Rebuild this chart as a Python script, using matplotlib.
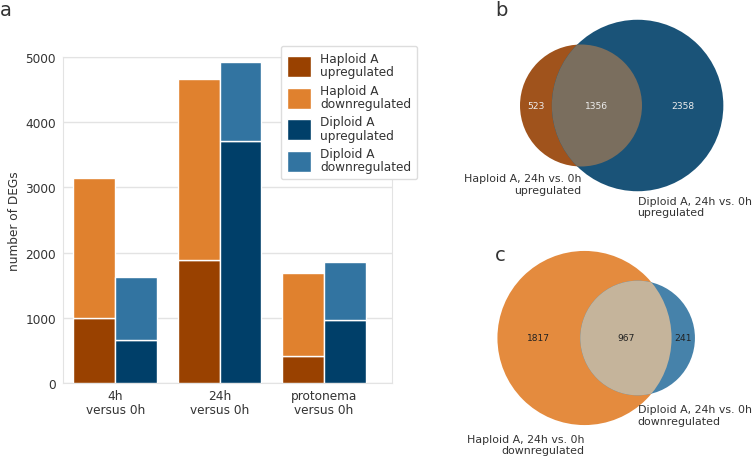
import numpy as np
import matplotlib
matplotlib.use('Agg')
import matplotlib.pyplot as plt
from matplotlib.patches import Circle

# bar chart data (panel a)
comparisons = ['4h\nversus 0h', '24h\nversus 0h', 'protonema\nversus 0h']
haploid_up = [990, 1879, 418]
haploid_down = [2150, 2784, 1271]
diploid_up = [653, 3714, 959]
diploid_down = [970, 1208, 893]

# venn data (panels b, c): only-left, shared, only-right
venn_up = [523, 1356, 2358]
venn_down = [1817, 967, 241]

c_hap_up = '#994100'
c_hap_down = '#e0812e'
c_dip_up = '#003f69'
c_dip_down = '#3274a1'
txt = '#333333'

plt.rcParams['font.family'] = ['DejaVu Sans']
plt.rcParams['text.color'] = txt

fig = plt.figure(figsize=(7.52, 4.60), dpi=100)

# ---- panel a: stacked bars ----
ax = fig.add_axes([63 / 752, 1 - 384 / 460, 329 / 752, 326 / 460])
x = np.arange(len(comparisons))
w = 0.4
ax.bar(x - w / 2, haploid_up, w, color=c_hap_up, edgecolor='white', linewidth=1,
       label='Haploid A\nupregulated', zorder=3)
ax.bar(x - w / 2, haploid_down, w, bottom=haploid_up, color=c_hap_down,
       edgecolor='white', linewidth=1, label='Haploid A\ndownregulated', zorder=3)
ax.bar(x + w / 2, diploid_up, w, color=c_dip_up, edgecolor='white', linewidth=1,
       label='Diploid A\nupregulated', zorder=3)
ax.bar(x + w / 2, diploid_down, w, bottom=diploid_up, color=c_dip_down,
       edgecolor='white', linewidth=1, label='Diploid A\ndownregulated', zorder=3)
ax.set_xlim(-0.5, 2.65)
ax.set_ylim(0, 5000)
ax.set_xticks(x)
ax.set_xticklabels(comparisons, fontsize=8.7, color=txt, linespacing=1.15)
ax.set_yticks([0, 1000, 2000, 3000, 4000, 5000])
ax.tick_params(axis='y', labelsize=8.7, labelcolor=txt, length=0, pad=5)
ax.tick_params(axis='x', length=0, pad=4)
ax.set_ylabel('number of DEGs', fontsize=8.7, color=txt, labelpad=3)
ax.grid(axis='y', color='#e3e3e3', linewidth=1, zorder=0)
for s in ax.spines.values():
    s.set_color('#e3e3e3')
leg = ax.legend(loc='upper left', bbox_to_anchor=(0.6626, 1.034), borderaxespad=0,
                fontsize=8.7, handlelength=2.0, handleheight=2.3, labelspacing=0.42,
                borderpad=0.5, handletextpad=0.75, framealpha=1, fancybox=True)
leg.get_frame().set_edgecolor('#dddddd')
for t in leg.get_texts():
    t.set_color(txt)
    t.set_linespacing(1.05)

fig.text(0.0, 1 - 16 / 460, 'a', fontsize=14, color=txt)
fig.text(495 / 752, 1 - 16 / 460, 'b', fontsize=14, color=txt)
fig.text(495 / 752, 1 - 261 / 460, 'c', fontsize=14, color=txt)

# ---- panels b, c: venn diagrams in pixel coordinates ----
av = fig.add_axes([0, 0, 1, 1])
av.set_xlim(0, 752)
av.set_ylim(460, 0)
av.axis('off')
av.patch.set_alpha(0)


def lens_area(r1, r2, d):
    if d >= r1 + r2:
        return 0.0
    if d <= abs(r1 - r2):
        return np.pi * min(r1, r2) ** 2
    a1 = r1 ** 2 * np.arccos((d ** 2 + r1 ** 2 - r2 ** 2) / (2 * d * r1))
    a2 = r2 ** 2 * np.arccos((d ** 2 + r2 ** 2 - r1 ** 2) / (2 * d * r2))
    a3 = 0.5 * np.sqrt((-d + r1 + r2) * (d + r1 - r2) * (d - r1 + r2) * (d + r1 + r2))
    return a1 + a2 - a3


def venn2(counts, k, cx, cy, cols, num_col, lab_a, lab_b, lab_off):
    n_a = counts[0] + counts[1]
    n_b = counts[1] + counts[2]
    r1 = k * np.sqrt(n_a)
    r2 = k * np.sqrt(n_b)
    target = np.pi * k ** 2 * counts[1]
    lo, hi = abs(r1 - r2), r1 + r2
    for _ in range(60):
        mid = (lo + hi) / 2
        if lens_area(r1, r2, mid) > target:
            lo = mid
        else:
            hi = mid
    d = (lo + hi) / 2
    cx2 = cx + d
    av.add_patch(Circle((cx, cy), r1, color=cols[0], lw=0))
    av.add_patch(Circle((cx2, cy), r2, color=cols[1], lw=0))
    # intersection: first circle clipped to the second
    ov = Circle((cx, cy), r1, color=cols[2], lw=0)
    av.add_patch(ov)
    ov.set_clip_path(Circle((cx2, cy), r2, transform=av.transData))
    xs = [((cx - r1) + (cx2 - r2)) / 2, ((cx2 - r2) + (cx + r1)) / 2,
          ((cx + r1) + (cx2 + r2)) / 2]
    for xp, v in zip(xs, counts):
        av.text(xp, cy, str(v), ha='center', va='center', fontsize=6.6, color=num_col)
    av.text(cx, cy + r1 + lab_off[0], lab_a, ha='right', va='top',
            fontsize=7.9, color=txt, linespacing=1.15)
    av.text(cx2, cy + r2 + lab_off[1], lab_b, ha='left', va='top',
            fontsize=7.9, color=txt, linespacing=1.15)


venn2(venn_up, 1.407, 581, 106.5, ['#a0531c', '#1a5378', '#7a6e5e'], '#eeeeee',
      'Haploid A, 24h vs. 0h\nupregulated', 'Diploid A, 24h vs. 0h\nupregulated',
      (7, 5))
venn2(venn_down, 1.65, 584.5, 339, ['#e48b3e', '#4682aa', '#c5b49b'], '#222222',
      'Haploid A, 24h vs. 0h\ndownregulated', 'Diploid A, 24h vs. 0h\ndownregulated',
      (9, 9))

fig.savefig('out.png', dpi=100)
